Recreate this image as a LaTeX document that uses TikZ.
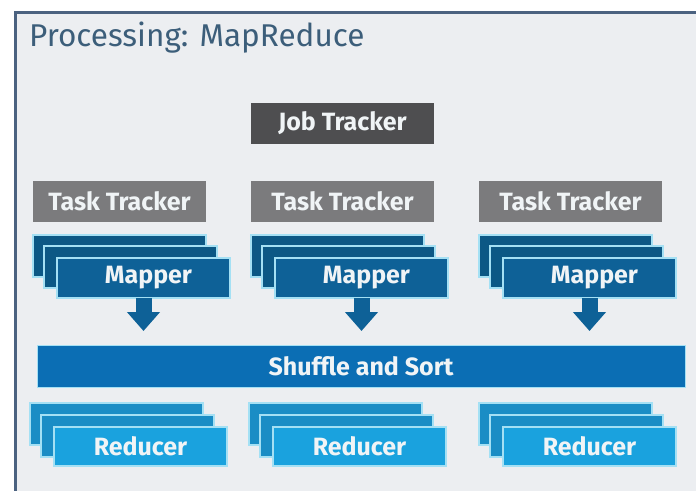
\documentclass[tikz,border=0pt]{standalone}
\usepackage{fontspec}
\setmainfont{Fira Sans}
\usetikzlibrary{arrows.meta,calc}

\definecolor{framec}{HTML}{4B6280}
\definecolor{panelc}{HTML}{ECEEF1}
\definecolor{titlec}{HTML}{3C5E7A}
\definecolor{jobc}{HTML}{4E4E50}
\definecolor{taskc}{HTML}{7B7B7D}
\definecolor{mapc}{HTML}{0E6197}
\definecolor{mapbackc}{HTML}{0C5885}
\definecolor{edgec}{HTML}{A4E0F4}
\definecolor{shufc}{HTML}{0B6EB4}
\definecolor{redc}{HTML}{1AA2DE}
\definecolor{redbackc}{HTML}{1A8DC5}
\definecolor{labelc}{HTML}{F0F4F6}

\tikzset{
  boxfont/.style={font=\fontsize{25}{28}\selectfont\bfseries},
  tagbox/.style={anchor=north west, inner sep=0pt, outer sep=0pt,
    minimum width=183pt, minimum height=41pt, text=labelc, boxfont},
  layer/.style={anchor=north west, inner sep=0pt, outer sep=0pt,
    minimum width=173pt, minimum height=42pt, draw=edgec, line width=1.4pt},
  worklabel/.style={text=labelc, boxfont},
  downarrow/.style={draw=mapc, line width=16pt,
    -{Triangle[width=32pt,length=19pt]}}
}

\begin{document}
\begin{tikzpicture}[x=1pt,y=-1pt]
  \useasboundingbox (0,0) rectangle (696,490);
  \fill[white] (0,0) rectangle (696,490);
  % panel with its frame
  \draw[framec, line width=3pt, fill=panelc] (15.5,12.5) rectangle (720,520);

  \node[anchor=base west, inner sep=0pt, text=titlec,
        font=\fontsize{31.5}{36}\selectfont] (title) at (29,46) {Processing: MapReduce};

  \node[tagbox, fill=jobc] (job) at (251,103) {Job Tracker};

  \foreach \i/\tx/\tw/\mx/\rx in {1/33/173/33/30, 2/251/183/251/249, 3/479/183/479/479} {
    \node[tagbox, fill=taskc, minimum width=\tw pt] (tt\i) at (\tx,181) {Task Tracker};
    % stacked mapper cards
    \node[layer, fill=mapbackc] (mb\i) at (\mx,235) {};
    \node[layer, fill=mapbackc] (mm\i) at (\mx+11,246) {};
    \node[layer, fill=mapc, minimum height=40pt] (m\i) at (\mx+24,258) {};
    \node[worklabel, xshift=5pt] at (m\i.center) {Mapper};
    \coordinate (tip\i) at ($(m\i.south)+(0,33)$);
    \draw[downarrow] (m\i.south) -- (tip\i);
    % stacked reducer cards
    \node[layer, fill=redbackc] (rb\i) at (\rx,403) {};
    \node[layer, fill=redbackc] (rm\i) at (\rx+11,415) {};
    \node[layer, fill=redc, minimum height=39pt] (r\i) at (\rx+24,427) {};
    \node[worklabel] at (r\i.center) {Reducer};
  }

  \node[anchor=north west, inner sep=0pt, outer sep=0pt, fill=shufc,
        draw=edgec, line width=1pt, minimum width=648pt, minimum height=42pt,
        text=labelc, boxfont] (shuffle) at (37,345) {Shuffle and Sort};
\end{tikzpicture}
\end{document}
